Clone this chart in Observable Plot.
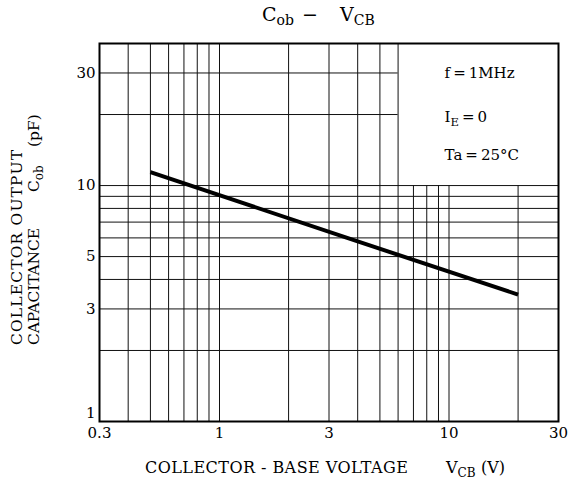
<!DOCTYPE html>
<html><head><meta charset="utf-8">
<script src="https://cdn.jsdelivr.net/npm/d3@7"></script>
<script src="https://cdn.jsdelivr.net/npm/@observablehq/plot@0.6"></script>
<style>
body{margin:0;background:#fff}
svg{font-family:"DejaVu Serif",serif}
</style>
</head><body><div id="chart"></div><script>
// Data
const vcb = [0.5, 4, 20];          // collector-base voltage, V
const cob = [11.4, 5.8, 3.45];     // collector output capacitance, pF
const xTicks = [0.3, 1, 3, 10, 30];
const yTicks = [1, 3, 5, 10, 30];
const xGridFull = [0.4, 0.5, 0.6, 0.7, 0.8, 0.9, 1, 2, 3, 4, 5, 6];
const xGridLower = [7, 8, 9, 10, 20];
const yGridFull = [2, 3, 4, 5, 6, 7, 8, 9, 10];
const yGridLeft = [20, 30];
const conditions = [
  [["f\u2009=\u20091MHz", ""]],
  [["I", ""], ["E", "sub"], ["\u2009=\u20090", ""]],
  [["Ta\u2009=\u200925°C", ""]]
];

const data = vcb.map((v, i) => ({v, c: cob[i]}));

const chart = Plot.plot({
  width: 568, height: 487,
  marginLeft: 99, marginRight: 10, marginTop: 43, marginBottom: 66,
  x: {type: "log", domain: [0.3, 30], axis: null},
  y: {type: "log", domain: [1, 40], axis: null},
  style: {fontFamily: "DejaVu Serif", background: "white", color: "#000"},
  marks: [
    Plot.ruleX(xGridFull, {stroke: "#111", strokeWidth: 1}),
    Plot.ruleX(xGridLower, {y1: 1, y2: 10, stroke: "#111", strokeWidth: 1}),
    Plot.ruleY(yGridFull, {stroke: "#111", strokeWidth: 1}),
    Plot.ruleY(yGridLeft, {x1: 0.3, x2: 6, stroke: "#111", strokeWidth: 1}),
    Plot.frame({stroke: "#000", strokeWidth: 2}),
    Plot.line(data, {x: "v", y: "c", stroke: "#000", strokeWidth: 4, strokeLinecap: "butt"}),
    Plot.text(xTicks, {x: d => d, frameAnchor: "bottom", dy: 16, text: d => String(d), fontSize: 15, fill: "#000"}),
    Plot.text(yTicks.filter(d => d > 1), {y: d => d, frameAnchor: "left", dx: -4, textAnchor: "end", text: d => String(d), fontSize: 15, fill: "#000"}),
    Plot.text(yTicks.filter(d => d === 1), {y: d => d, frameAnchor: "left", dx: -4, dy: -8, textAnchor: "end", text: d => String(d), fontSize: 15, fill: "#000"})
  ]
});
document.getElementById("chart").append(chart);

const svg = d3.select(chart);
const sx = chart.scale("x");
const ann = svg.append("g").attr("text-anchor", "start").attr("fill", "#000");

// Title
const t1 = ann.append("text").attr("y", 21).attr("font-size", 19);
t1.append("tspan").attr("x", 262).text("C");
t1.append("tspan").attr("font-size", 14).attr("dy", 4).text("ob");
t1.append("tspan").attr("x", 302).attr("dy", -4).text("\u2212");
t1.append("tspan").attr("x", 340).text("V");
t1.append("tspan").attr("font-size", 14).attr("dy", 4).text("CB");

// Conditions box text
const bx = sx.apply(6) + 47;
conditions.forEach((parts, i) => {
  const y = [78, 122, 160][i];
  const t = ann.append("text").attr("x", bx).attr("y", y).attr("font-size", 15);
  let lowered = false;
  for (const p of parts) {
    const ts = t.append("tspan").text(p[0]);
    if (p[1] === "sub") { ts.attr("font-size", 11.5).attr("dy", 4); lowered = true; }
    else if (lowered) { ts.attr("dy", -4); lowered = false; }
  }
});

// X axis label
ann.append("text").attr("x", 145).attr("y", 473).attr("font-size", 16)
  .attr("textLength", 263).attr("lengthAdjust", "spacing").text("COLLECTOR - BASE VOLTAGE");
const xl = ann.append("text").attr("x", 446).attr("y", 473).attr("font-size", 16);
xl.append("tspan").text("V");
xl.append("tspan").attr("font-size", 12).attr("dy", 4).text("CB");
xl.append("tspan").attr("x", 481).attr("dy", -4).text("(V)");

// Y axis label (rotated, two lines)
ann.append("text").attr("transform", "translate(22,345) rotate(-90)")
  .attr("font-size", 15.5).attr("textLength", 195).attr("lengthAdjust", "spacing").text("COLLECTOR OUTPUT");
ann.append("text").attr("transform", "translate(39,345) rotate(-90)")
  .attr("font-size", 15.5).attr("textLength", 117).attr("lengthAdjust", "spacing").text("CAPACITANCE");
const yl2 = ann.append("text").attr("transform", "translate(39,345) rotate(-90)").attr("font-size", 15.5);
yl2.append("tspan").attr("x", 153).text("C");
yl2.append("tspan").attr("font-size", 12).attr("dy", 4).text("ob");
yl2.append("tspan").attr("x", 198).attr("dy", -4).text("(pF)");
</script></body></html>
